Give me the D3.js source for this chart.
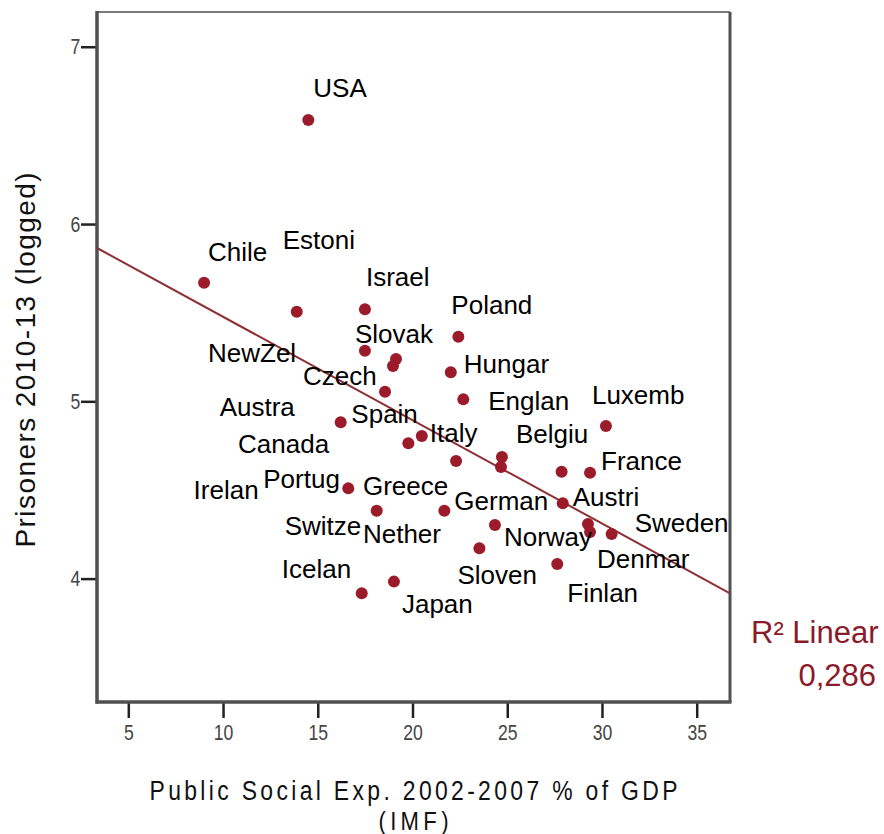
<!DOCTYPE html>
<html>
<head>
<meta charset="utf-8">
<script src="https://cdn.jsdelivr.net/npm/d3@7"></script>
<style>
  html, body { margin: 0; padding: 0; background: #ffffff; }
  svg { display: block; }
</style>
</head>
<body>
<script>
// ---- data ----
const countries = ["USA","Chile","Estoni","Israel","Poland","Slovak","NewZel","","Hungar","Czech",
  "Englan","Austra","Spain","Italy","Canada","Portug","Switze","German","Japan","Icelan",
  "Sloven","Luxemb","Belgiu","Greece","Irelan","France","Austri","Norway","Nether","Denmar",
  "Sweden","Finlan"];
const socialExp = [14.50, 9.00, 13.89, 17.49, 22.42, 17.49, 19.13, 18.97, 22.02, 18.55,
  22.68, 16.21, 19.78, 20.49, 22.30, 16.61, 18.11, 21.68, 19.02, 17.32,
  23.53, 30.21, 24.72, 24.67, 27.87, 29.37, 27.93, 24.35, 29.26, 29.37,
  30.51, 27.64];
const prisonersLog = [6.587, 5.669, 5.505, 5.519, 5.364, 5.285, 5.239, 5.199, 5.164, 5.054,
  5.011, 4.882, 4.763, 4.804, 4.663, 4.509, 4.383, 4.383, 3.983, 3.917,
  4.171, 4.861, 4.686, 4.629, 4.603, 4.597, 4.425, 4.302, 4.308, 4.263,
  4.252, 4.082];
const xTicks = [5, 10, 15, 20, 25, 30, 35];
const yTicks = [4, 5, 6, 7];
const fitIntercept = 6.06;
const fitSlope = -0.0583;
const rSquaredText = "0,286";
const xTitleLines = ["Public Social Exp. 2002-2007 % of GDP", "(IMF)"];
const yTitle = "Prisoners 2010-13 (logged)";

// ---- layout (label placement, pixels relative to point) ----
const labelOffsets = [[5,-23],[4,-22],[-14,-63],[1,-23],[-7,-23],[-10,-8],[-188,3],null,[13,1],[-82,-7],
  [25,11],[-121,-6],[-57,-20],[8,6],[-218,-8],[-85,0],[-92,24],[10,-1],[8,31],[-80,-15],
  [-22,36],[-14,-22],[14,-14],[-138,28],[-368,27],[11,-3],[10,3],[9,21],[-225,19],[7,36],
  [23,-2],[10,38]];

const W = 884, H = 834;
const plot = {left: 97, right: 730, top: 12, bottom: 702};

const svg = d3.select("body").append("svg").attr("width", W).attr("height", H);
svg.append("rect").attr("width", W).attr("height", H).attr("fill", "#ffffff");

const x = d3.scaleLinear().domain([3.348, 36.757]).range([plot.left, plot.right]);
const y = d3.scaleLinear().domain([3.304, 7.196]).range([plot.bottom, plot.top]);

const baseFont = "'Liberation Sans', Arial, sans-serif";

// frame: top and right borders
svg.append("line").attr("x1", plot.left).attr("x2", plot.right).attr("y1", plot.top).attr("y2", plot.top)
  .attr("stroke", "#7a7a7a").attr("stroke-width", 2);
svg.append("line").attr("x1", plot.right).attr("x2", plot.right).attr("y1", plot.top).attr("y2", plot.bottom)
  .attr("stroke", "#505050").attr("stroke-width", 3);

// x axis
const xAxis = d3.axisBottom(x).tickValues(xTicks).tickSize(16).tickPadding(6).tickFormat(d3.format("d"));
const gx = svg.append("g").attr("transform", `translate(0,${plot.bottom})`).call(xAxis);
gx.select(".domain").remove();
gx.selectAll(".tick line").attr("stroke", "#222").attr("stroke-width", 2.5);
gx.selectAll(".tick text").attr("font-family", baseFont).attr("font-size", 22).attr("fill", "#444")
  .attr("dy", "0.71em").attr("transform", "scale(0.8,1)");

// y axis
const yAxis = d3.axisLeft(y).tickValues(yTicks).tickSize(16).tickPadding(1).tickFormat(d3.format("d"));
const gy = svg.append("g").attr("transform", `translate(${plot.left},0)`).call(yAxis);
gy.select(".domain").remove();
gy.selectAll(".tick line").attr("stroke", "#222").attr("stroke-width", 2.5);
gy.selectAll(".tick text").attr("font-family", baseFont).attr("font-size", 22).attr("fill", "#444")
  .attr("x", -21).attr("transform", "scale(0.8,1)");

// axis lines (left, bottom)
svg.append("line").attr("x1", plot.left).attr("x2", plot.left).attr("y1", plot.top - 1).attr("y2", plot.bottom + 1.5)
  .attr("stroke", "#505050").attr("stroke-width", 3.5);
svg.append("line").attr("x1", plot.left - 1.5).attr("x2", plot.right + 1.5).attr("y1", plot.bottom).attr("y2", plot.bottom)
  .attr("stroke", "#505050").attr("stroke-width", 3.5);

// regression line
const xd = x.domain();
svg.append("line")
  .attr("x1", x(xd[0])).attr("y1", y(fitIntercept + fitSlope * xd[0]))
  .attr("x2", x(xd[1])).attr("y2", y(fitIntercept + fitSlope * xd[1]))
  .attr("stroke", "#8e2f35").attr("stroke-width", 2);

// points
const pts = countries.map((c, i) => ({name: c, sx: socialExp[i], py: prisonersLog[i], off: labelOffsets[i]}));
svg.append("g").selectAll("circle").data(pts).join("circle")
  .attr("cx", d => x(d.sx)).attr("cy", d => y(d.py)).attr("r", 6)
  .attr("fill", "#9b1b2b");

// labels
svg.append("g").selectAll("text").data(pts.filter(d => d.name && d.off)).join("text")
  .attr("x", d => x(d.sx) + d.off[0]).attr("y", d => y(d.py) + d.off[1])
  .attr("font-family", baseFont).attr("font-size", 26)
  .attr("fill", "#000").text(d => d.name);

// R² annotation
svg.append("text").attr("x", 751).attr("y", 643)
  .attr("font-family", baseFont).attr("font-size", 31)
  .attr("fill", "#8b1a2a").text("R² Linear");
svg.append("text").attr("x", 876).attr("y", 686).attr("text-anchor", "end")
  .attr("font-family", baseFont).attr("font-size", 31)
  .attr("fill", "#8b1a2a").text(rSquaredText);

// x title (condensed glyphs, spaced out)
const cx = (plot.left + plot.right) / 2;
const sx = 0.85;
svg.append("text").attr("transform", `translate(${cx},800) scale(${sx},1)`).attr("text-anchor", "middle")
  .attr("font-family", baseFont).attr("font-size", 27).attr("fill", "#111")
  .attr("textLength", 528 / sx).attr("lengthAdjust", "spacing").text(xTitleLines[0]);
svg.append("text").attr("transform", `translate(${cx},830) scale(${sx},1)`).attr("text-anchor", "middle")
  .attr("font-family", baseFont).attr("font-size", 26).attr("fill", "#111")
  .attr("textLength", 70 / sx).attr("lengthAdjust", "spacing").text(xTitleLines[1]);

// y title
svg.append("text").attr("transform", `translate(35,${(plot.top + plot.bottom) / 2 + 3}) rotate(-90)`)
  .attr("text-anchor", "middle")
  .attr("font-family", baseFont).attr("font-size", 28).attr("fill", "#111")
  .attr("textLength", 375).attr("lengthAdjust", "spacing").text(yTitle);
</script>
</body>
</html>
